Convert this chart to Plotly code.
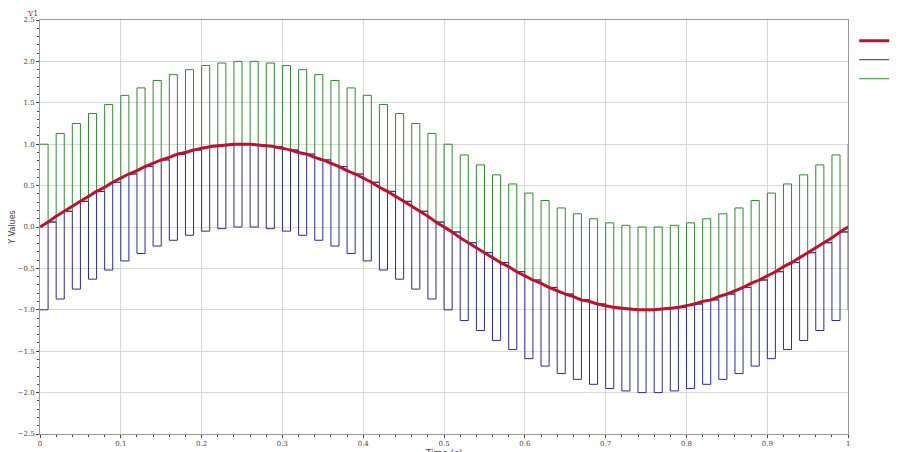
import plotly.graph_objects as go

time_s = [i / 100 for i in range(101)]

original_signal = [
    0, .06, .13, .19, .25, .31, .37, .43, .48, .54, .59, .64, .68, .73, .77, .81, .84, .88, .9, .93, .95, .97, .98, .99, 1, 1,
    1, .99, .98, .97, .95, .93, .9, .88, .84, .81, .77, .73, .68, .64, .59, .54, .48, .43, .37, .31, .25, .19, .13, .06, 0,
    -.06, -.13, -.19, -.25, -.31, -.37, -.43, -.48, -.54, -.59, -.64, -.68, -.73, -.77, -.81, -.84, -.88, -.9, -.93, -.95, -.97, -.98, -.99, -1, -1,
    -1, -.99, -.98, -.97, -.95, -.93, -.9, -.88, -.84, -.81, -.77, -.73, -.68, -.64, -.59, -.54, -.48, -.43, -.37, -.31, -.25, -.19, -.13, -.06, 0,
]
modified_signal1 = [
    1, .06, 1.13, .19, 1.25, .31, 1.37, .43, 1.48, .54, 1.59, .64, 1.68, .73, 1.77, .81, 1.84, .88, 1.9, .93, 1.95, .97, 1.98, .99, 2, 1,
    2, .99, 1.98, .97, 1.95, .93, 1.9, .88, 1.84, .81, 1.77, .73, 1.68, .64, 1.59, .54, 1.48, .43, 1.37, .31, 1.25, .19, 1.13, .06, 1,
    -.06, .87, -.19, .75, -.31, .63, -.43, .52, -.54, .41, -.64, .32, -.73, .23, -.81, .16, -.88, .1, -.93, .05, -.97, .02, -.99, 0, -1,
    0, -.99, .02, -.97, .05, -.93, .1, -.88, .16, -.81, .23, -.73, .32, -.64, .41, -.54, .52, -.43, .63, -.31, .75, -.19, .87, -.06, 1,
]
modified_signal2 = [
    -1, .06, -.87, .19, -.75, .31, -.63, .43, -.52, .54, -.41, .64, -.32, .73, -.23, .81, -.16, .88, -.1, .93, -.05, .97, -.02, .99, 0, 1,
    0, .99, -.02, .97, -.05, .93, -.1, .88, -.16, .81, -.23, .73, -.32, .64, -.41, .54, -.52, .43, -.63, .31, -.75, .19, -.87, .06, -1,
    -.06, -1.13, -.19, -1.25, -.31, -1.37, -.43, -1.48, -.54, -1.59, -.64, -1.68, -.73, -1.77, -.81, -1.84, -.88, -1.9, -.93, -1.95, -.97, -1.98, -.99, -2, -1,
    -2, -.99, -1.98, -.97, -1.95, -.93, -1.9, -.88, -1.84, -.81, -1.77, -.73, -1.68, -.64, -1.59, -.54, -1.48, -.43, -1.37, -.31, -1.25, -.19, -1.13, -.06, -1,
]

fig = go.Figure()
fig.add_trace(go.Scatter(x=time_s, y=original_signal, mode='lines', line_shape='spline',
                         line=dict(color='#c0102a', width=3), name='original_signal'))
fig.add_trace(go.Scatter(x=time_s, y=modified_signal1, mode='lines', line_shape='hv',
                         line=dict(color='#2e8b2e', width=1), name='modified_signal1'))
fig.add_trace(go.Scatter(x=time_s, y=modified_signal2, mode='lines', line_shape='hv',
                         line=dict(color='#2a2a9a', width=1), name='modified_signal2'))
# la courbe rouge au-dessus
fig.data = (fig.data[1], fig.data[2], fig.data[0])

fig.update_layout(
    width=900, height=452, plot_bgcolor='white', paper_bgcolor='white',
    margin=dict(l=32, r=0, t=12, b=26, autoexpand=False),
    font=dict(family='DejaVu Serif', size=7, color='#444'),
    legend=dict(x=0.938, y=0.985, xanchor='left', yanchor='top', font=dict(size=7),
                itemwidth=30, tracegroupgap=0, traceorder='reversed', bgcolor='rgba(0,0,0,0)'),
    showlegend=True,
)
fig.update_xaxes(range=[0, 1], dtick=0.1, domain=[0, 0.931], showgrid=True, gridcolor='#d8d8d8',
                 linecolor='#999', mirror=True, ticks='outside', ticklen=3, automargin=False,
                 minor=dict(dtick=0.02, ticks='outside', ticklen=2, showgrid=False),
                 title=dict(text='Time (s)', standoff=2, font=dict(family='DejaVu Sans', size=9)),
                 zeroline=False)
fig.update_yaxes(range=[-2.5, 2.5], dtick=0.5, tickformat='.1f', showgrid=True, gridcolor='#d8d8d8',
                 linecolor='#999', mirror=True, ticks='outside', ticklen=3, automargin=False,
                 minor=dict(dtick=0.1, ticks='outside', ticklen=2, showgrid=False),
                 title=dict(text='Y Values', standoff=2, font=dict(family='DejaVu Sans', size=8)),
                 zeroline=False)
fig.add_annotation(text='Y1', x=0, y=1, xref='paper', yref='paper', xanchor='right', yanchor='bottom',
                   showarrow=False, font=dict(color='#c0102a', size=8))
fig.write_html("out.html")
